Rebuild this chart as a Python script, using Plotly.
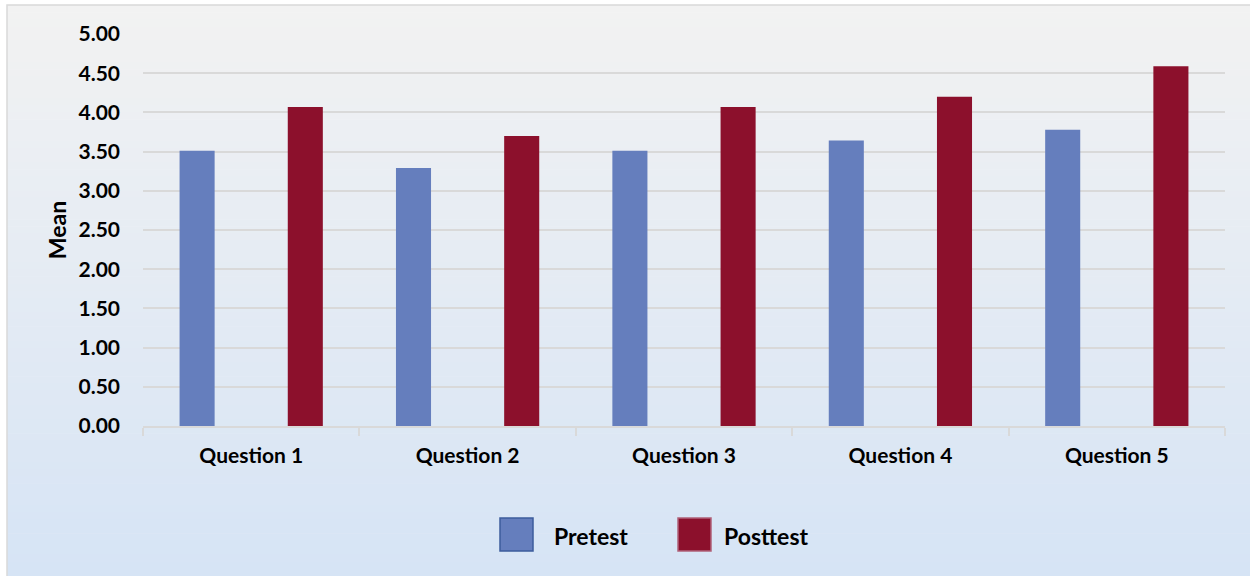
import plotly.graph_objects as go

categories = ["Question 1", "Question 2", "Question 3", "Question 4", "Question 5"]
pretest = [3.51, 3.29, 3.51, 3.64, 3.78]
posttest = [4.07, 3.70, 4.07, 4.20, 4.59]
series_names = ["Pretest", "Posttest"]
series_colors = ["#657ebd", "#8c102c"]
series_borders = ["#3d5c9c", "#b06078"]
y_ticks = [0, 0.5, 1, 1.5, 2, 2.5, 3, 3.5, 4, 4.5, 5]

W, H = 1250, 576
L, R, T, B = 143, 25, 34, 150
PW, PH = W - L - R, H - T - B

def px_x(px):
    return (px - L) / PW

def px_y(py):
    return (H - B - py) / PH

FONT = "Lato"
TXT = "#000000"

fig = go.Figure()
for name, vals, col in zip(series_names, [pretest, posttest], series_colors):
    fig.add_trace(go.Bar(x=categories, y=vals, name=name, marker=dict(color=col, line=dict(width=0)),
                         showlegend=False))

shapes = []
# background gradient strips
top_c = (242, 242, 242)
bot_c = (214, 228, 245)
y0px, y1px = 5, H
n = 80
for i in range(n):
    t = i / (n - 1)
    c = tuple(round(top_c[k] + (bot_c[k] - top_c[k]) * t) for k in range(3))
    ya = y0px + (y1px - y0px) * i / n
    yb = y0px + (y1px - y0px) * (i + 1) / n + 0.6
    shapes.append(dict(type="rect", xref="paper", yref="paper", layer="below",
                       x0=px_x(7), x1=px_x(W + 2), y0=px_y(ya), y1=px_y(yb),
                       fillcolor="rgb(%d,%d,%d)" % c, line=dict(width=0)))
# outer border
shapes.append(dict(type="rect", xref="paper", yref="paper", layer="below",
                   x0=px_x(7), x1=px_x(W + 5), y0=px_y(5), y1=px_y(H + 5),
                   fillcolor="rgba(0,0,0,0)", line=dict(color="#d9d9d9", width=1.5)))

# custom legend
annotations = []
legend_x = [500, 678]
legend_text_x = [552, 722]
for lx, tx, name, col, bc in zip(legend_x, legend_text_x, series_names, series_colors, series_borders):
    shapes.append(dict(type="rect", xref="paper", yref="paper",
                       x0=px_x(lx), x1=px_x(lx + 33), y0=px_y(518), y1=px_y(551),
                       fillcolor=col, line=dict(color=bc, width=1.5)))
    annotations.append(dict(xref="paper", yref="paper", x=px_x(tx), y=px_y(536),
                            xanchor="left", yanchor="middle", showarrow=False, text="<b>%s</b>" % name,
                            font=dict(family=FONT, size=23, color=TXT)))

fig.update_layout(
    width=W, height=H,
    margin=dict(l=L, r=R, t=T, b=B),
    paper_bgcolor="white",
    plot_bgcolor="rgba(0,0,0,0)",
    barmode="group", bargap=0.0, bargroupgap=0.676,
    shapes=shapes, annotations=annotations,
    showlegend=False,
    font=dict(family=FONT, color=TXT),
)
fig.update_xaxes(
    tickson="boundaries", ticks="outside", ticklen=8, tickwidth=2, tickcolor="#d9d9d9",
    showline=True, linecolor="#d9d9d9", linewidth=2, showgrid=False,
    tickfont=dict(family=FONT, size=21, color=TXT),
    tickvals=categories, ticktext=["<b>%s</b>" % c for c in categories],
    ticklabelstandoff=10,
)
fig.update_yaxes(
    range=[0, 5], tickvals=y_ticks, ticktext=["<b>%.2f</b>" % v for v in y_ticks],
    showgrid=True, gridcolor="#d9d9d9", gridwidth=2, zeroline=False, showline=False,
    ticks="", tickfont=dict(family=FONT, size=21, color=TXT),
    ticklabelstandoff=22,
    title=dict(text="<b>Mean</b>", font=dict(family=FONT, size=23, color=TXT), standoff=5),
)

fig.write_html("out.html")
